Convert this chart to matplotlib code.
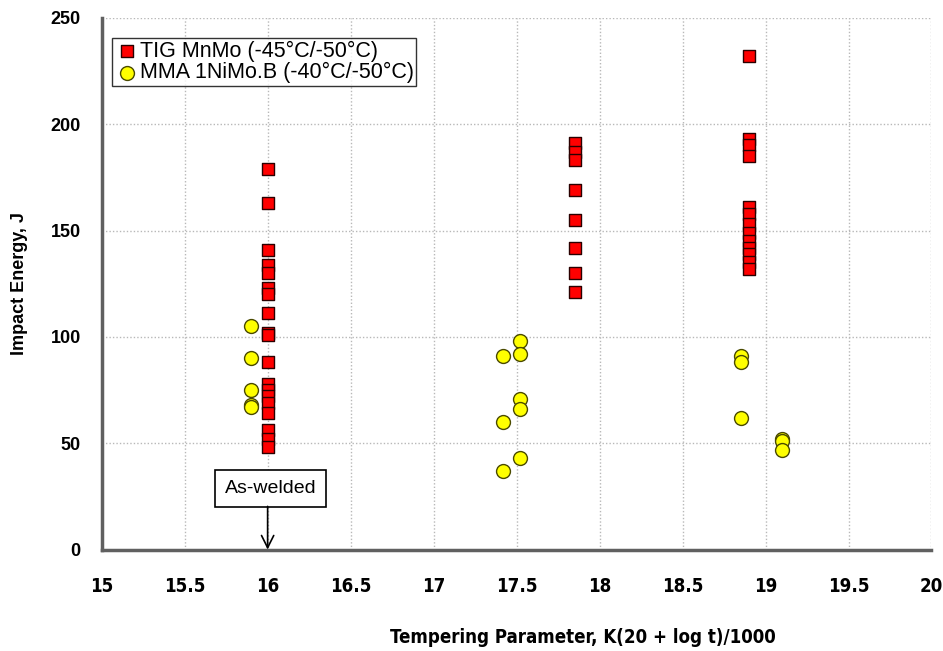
import matplotlib
matplotlib.use("Agg")
import matplotlib.pyplot as plt

# TIG MnMo (-45C/-50C) results
tig_x = [16.0] * 19 + [17.85] * 8 + [18.9] * 13
tig_y = [179, 163, 141, 134, 130, 123, 120, 111, 102, 88,
         78, 75, 72, 69, 64, 56, 52, 48, 101,
         191, 187, 183, 169, 155, 142, 130, 121,
         232, 193, 190, 185, 161, 158, 153, 149, 145, 142, 139, 135, 132]

# MMA 1NiMo.B (-40C/-50C) results
mma_x = [15.9] * 5 + [17.52] * 5 + [17.42] * 3 + [18.85] * 3 + [19.1] * 3
mma_y = [105, 90, 75, 68, 67,
         98, 92, 71, 66, 43,
         91, 60, 37,
         91, 88, 62,
         52, 51, 47]

xticks = [15, 15.5, 16, 16.5, 17, 17.5, 18, 18.5, 19, 19.5, 20]
yticks = [0, 50, 100, 150, 200, 250]

plt.rcParams['font.family'] = ['Liberation Sans', 'DejaVu Sans']
narrow = dict(fontfamily='DejaVu Sans', fontstretch='condensed', fontweight='bold', fontsize=13.4)

fig = plt.figure(figsize=(9.43, 6.51), dpi=100)
ax = fig.add_axes([0.1078, 0.1558, 0.880, 0.8168])

ax.scatter(tig_x, tig_y, marker='s', s=78, c='#ff0000', edgecolors='#2a0000',
           linewidths=1.0, zorder=3, label='TIG MnMo (-45°C/-50°C)')
ax.scatter(mma_x, mma_y, marker='o', s=100, c='#ffff00', edgecolors='#4a4a00',
           linewidths=1.0, zorder=3, label='MMA 1NiMo.B (-40°C/-50°C)')

ax.set_xlim(15, 20)
ax.set_ylim(0, 250)
ax.set_xticks(xticks)
ax.set_xticklabels([f"{t:g}" for t in xticks], **narrow)
ax.set_yticks(yticks)
ax.set_yticklabels([str(t) for t in yticks], fontweight='bold', fontsize=13)
ax.tick_params(length=0, pad=15, axis='y')
ax.tick_params(length=0, pad=20, axis='x')

ax.grid(True, color='#b8b8b8', linestyle=(0, (1, 1.5)), linewidth=1.0, zorder=0)
for side in ['top', 'right']:
    ax.spines[side].set_visible(False)
for side in ['left', 'bottom']:
    ax.spines[side].set_color('#606060')
    ax.spines[side].set_linewidth(2.5)

ax.set_ylabel('Impact Energy, J', fontweight='bold', fontsize=13, labelpad=16)
ax.set_xlabel('Tempering Parameter, K(20 + log t)/1000', **narrow)
ax.xaxis.set_label_coords(0.58, -0.148)

leg = ax.legend(loc='upper left', bbox_to_anchor=(0.013, 0.962), fontsize=15.5,
                frameon=True, fancybox=False, borderpad=0.12, handletextpad=0.05,
                labelspacing=0.02, handlelength=1.1, borderaxespad=0)
leg.get_frame().set_edgecolor('black')
leg.get_frame().set_linewidth(1.0)

# as-welded callout
ax.text(16.02, 28.7, 'As-welded', ha='center', va='center', fontsize=14,
        bbox=dict(boxstyle='square,pad=0.5', fc='white', ec='black', lw=1.2))
ax.annotate('', xy=(16.0, 0), xytext=(16.0, 20.3),
            arrowprops=dict(arrowstyle='->', color='black', lw=1.2,
                            mutation_scale=22, shrinkA=0, shrinkB=0))

fig.savefig('out.png', dpi=100)
